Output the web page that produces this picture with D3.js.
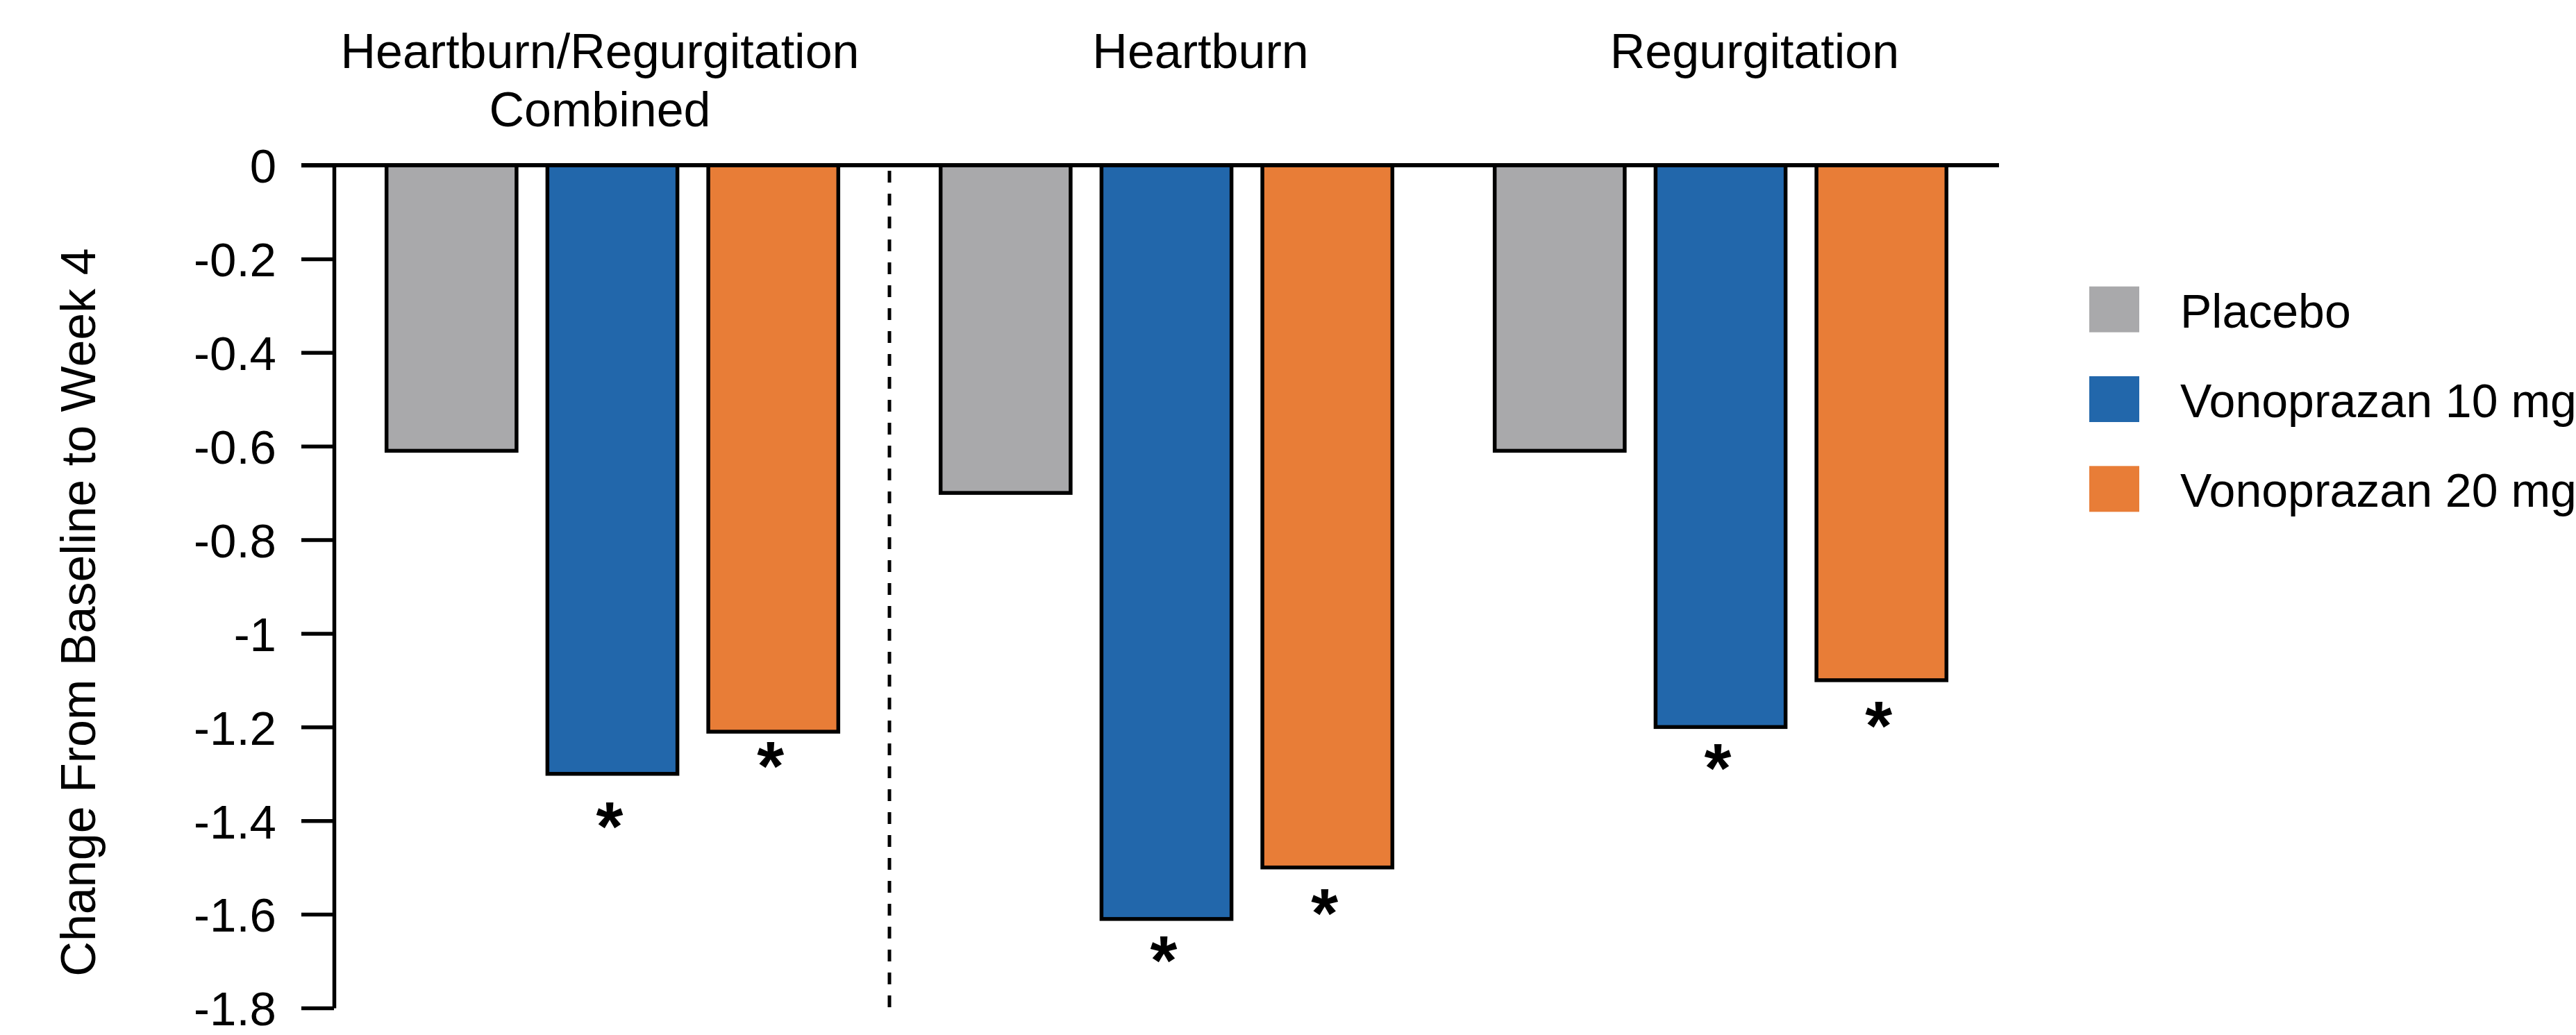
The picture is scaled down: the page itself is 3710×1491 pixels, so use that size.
<!DOCTYPE html>
<html>
<head>
<meta charset="utf-8">
<script src="https://cdn.jsdelivr.net/npm/d3@7"></script>
<style>
  html, body { margin: 0; padding: 0; background: #ffffff; }
  svg { display: block; }
  text { font-family: "Liberation Sans", Arial, Helvetica, sans-serif; fill: #000; }
</style>
</head>
<body>
<svg id="chart" width="3710" height="1491"></svg>
<script>
// ---------------- data ----------------
const groups = ["Heartburn/Regurgitation Combined", "Heartburn", "Regurgitation"];
const groupTitleLines = [["Heartburn/Regurgitation", "Combined"], ["Heartburn"], ["Regurgitation"]];
const series = ["Placebo", "Vonoprazan 10 mg", "Vonoprazan 20 mg"];
const placebo = [-0.61, -0.70, -0.61];
const vono10 = [-1.30, -1.61, -1.20];
const vono20 = [-1.21, -1.50, -1.10];
// significance markers (asterisk) and the value level where each is drawn
const sig10 = ["*", "*", "*"];
const sig20 = ["*", "*", "*"];
const sig10Level = [-1.39, -1.675, -1.265];
const sig20Level = [-1.26, -1.575, -1.175];
const yTicks = [0, -0.2, -0.4, -0.6, -0.8, -1, -1.2, -1.4, -1.6, -1.8];
const yTickLabels = ["0", "-0.2", "-0.4", "-0.6", "-0.8", "-1", "-1.2", "-1.4", "-1.6", "-1.8"];
const yTitle = "Change From Baseline to Week 4";

// ---------------- layout ----------------
const colors = ["#A9A9AB", "#2267AB", "#E87D37"];
const FS = 68;
const TFS = 70;
const svg = d3.select("#chart");

const x0 = d3.scaleBand().domain(groups).range([483, 2877]).paddingInner(0).paddingOuter(0);
const x1 = d3.scaleBand().domain(series).range([0, x0.bandwidth()]).paddingInner(0.192).paddingOuter(0.318);
const y = d3.scaleLinear().domain([0, -1.8]).range([238, 1452]);

const valuesBySeries = [placebo, vono10, vono20];
const rows = [];
groups.forEach((g, gi) => series.forEach((s, si) => rows.push({ g, s, si, v: valuesBySeries[si][gi] })));

// bars
svg.append("g").selectAll("rect").data(rows).join("rect")
  .attr("x", d => x0(d.g) + x1(d.s))
  .attr("y", y(0))
  .attr("width", x1.bandwidth())
  .attr("height", d => y(d.v) - y(0))
  .attr("fill", d => colors[d.si])
  .attr("stroke", "#000")
  .attr("stroke-width", 5.5);

// y axis
const axisX = 481;
const yAxis = d3.axisLeft(y).tickValues(yTicks).tickFormat((d, i) => yTickLabels[i])
  .tickSize(47).tickSizeOuter(0).tickPadding(36);
const ag = svg.append("g").attr("transform", `translate(${axisX},0)`).call(yAxis);
ag.select(".domain").attr("stroke", "#000").attr("stroke-width", 5.5);
ag.selectAll(".tick line").attr("stroke", "#000").attr("stroke-width", 5.5);
ag.selectAll(".tick text").attr("font-size", 69)
  .attr("font-family", '"Liberation Sans", Arial, sans-serif')
  .attr("fill", "#000").attr("dy", null).attr("y", 69 * 0.36);

// zero line across
svg.append("line")
  .attr("x1", axisX - 47).attr("x2", x0.range()[1] + 2)
  .attr("y1", y(0)).attr("y2", y(0))
  .attr("stroke", "#000").attr("stroke-width", 6);

// dashed separator between group 1 and 2
svg.append("line")
  .attr("x1", x0(groups[1])).attr("x2", x0(groups[1]))
  .attr("y1", y(0) + 8).attr("y2", y(-1.8) + 12)
  .attr("stroke", "#000").attr("stroke-width", 5)
  .attr("stroke-dasharray", "17 16");

// group titles
const titleDx = [-18, 49, 49];
groups.forEach((g, gi) => {
  const cx = x0(g) + x0.bandwidth() / 2 + titleDx[gi];
  const t = svg.append("text").attr("text-anchor", "middle").attr("font-size", TFS);
  groupTitleLines[gi].forEach((line, li) => {
    t.append("tspan").attr("x", cx).attr("y", 98 + li * 84).text(line);
  });
});

// asterisks
const sigRows = [];
groups.forEach((g, gi) => {
  sigRows.push({ g, s: series[1], mark: sig10[gi], lv: sig10Level[gi] });
  sigRows.push({ g, s: series[2], mark: sig20[gi], lv: sig20Level[gi] });
});
const AFS = 100;
svg.append("g").selectAll("text").data(sigRows).join("text")
  .attr("x", d => x0(d.g) + x1(d.s) + x1.bandwidth() / 2 - 4)
  .attr("y", d => y(d.lv) + AFS * 0.5)
  .attr("text-anchor", "middle")
  .attr("font-size", AFS)
  .attr("font-weight", "bold")
  .text(d => d.mark);

// y title
svg.append("text")
  .attr("transform", `translate(137,882) rotate(-90)`)
  .attr("text-anchor", "middle")
  .attr("font-size", TFS)
  .text(yTitle);

// legend
const legY = d3.scaleBand().domain(series).range([381, 769]).paddingInner(0).paddingOuter(0);
const lg = svg.append("g");
series.forEach((s, si) => {
  const cy = legY(s) + legY.bandwidth() / 2;
  lg.append("rect").attr("x", 3009).attr("y", cy - 33).attr("width", 72).attr("height", 66)
    .attr("fill", colors[si]);
  lg.append("text").attr("x", 3140).attr("y", cy + 26).attr("font-size", FS).text(s);
});
</script>
</body>
</html>
